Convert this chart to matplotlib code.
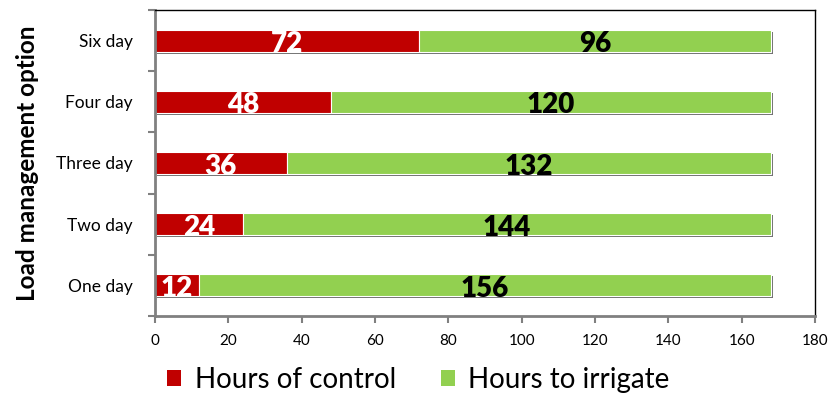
import matplotlib.pyplot as plt
import matplotlib.patheffects as pe
from matplotlib.patches import Patch
import numpy as np

options = ['One day', 'Two day', 'Three day', 'Four day', 'Six day']
control = [12, 24, 36, 48, 72]
irrigate = [156, 144, 132, 120, 96]

plt.rcParams['font.family'] = ['Lato', 'DejaVu Sans']

fig = plt.figure(figsize=(8.37, 4), dpi=100)
ax = fig.add_axes([0.185, 0.21, 0.789, 0.765])

y = np.arange(len(options))
shadow = [pe.SimplePatchShadow(offset=(1.5, -1.5), shadow_rgbFace='#606060', alpha=0.9), pe.Normal()]
ax.barh(y, control, height=0.36, color='#c00000', edgecolor='white', linewidth=0.8,
        path_effects=shadow)
ax.barh(y, irrigate, left=control, height=0.36, color='#92d050', edgecolor='white',
        linewidth=0.8, path_effects=shadow)

for i in range(len(options)):
    ax.text(control[i] / 2, y[i] - 0.06, str(control[i]), ha='center', va='center',
            color='white', fontsize=20, fontweight='heavy')
    ax.text(control[i] + irrigate[i] / 2, y[i] - 0.06, str(irrigate[i]), ha='center',
            va='center', color='black', fontsize=20, fontweight='heavy')

ax.set_xlim(0, 180)
ax.set_ylim(-0.5, 4.5)
ax.set_xticks(range(0, 181, 20))
ax.set_yticks(y)
ax.set_yticklabels(options, fontsize=12.5)
ax.set_yticks(np.arange(-0.5, 5, 1), minor=True)
ax.tick_params(axis='y', which='major', length=0, pad=16)
ax.tick_params(axis='y', which='minor', length=5, width=1.5, color='#808080')
ax.tick_params(axis='x', length=5, width=1.5, color='#808080', labelsize=11, pad=8)
ax.set_ylabel('Load management option', fontsize=17.5, fontweight='bold', labelpad=12)

for s in ['left', 'bottom']:
    ax.spines[s].set_color('#808080')
    ax.spines[s].set_linewidth(2)
for s in ['top', 'right']:
    ax.spines[s].set_color('black')
    ax.spines[s].set_linewidth(1)

handles = [Patch(facecolor='#c00000', label='Hours of control'),
           Patch(facecolor='#92d050', label='Hours to irrigate')]
fig.legend(handles=handles, loc='lower center', bbox_to_anchor=(0.5, -0.045), ncol=2,
           frameon=False, fontsize=20, handlelength=0.5, handleheight=0.5,
           handletextpad=0.5, columnspacing=1.6)

fig.savefig('out.png', dpi=100)
